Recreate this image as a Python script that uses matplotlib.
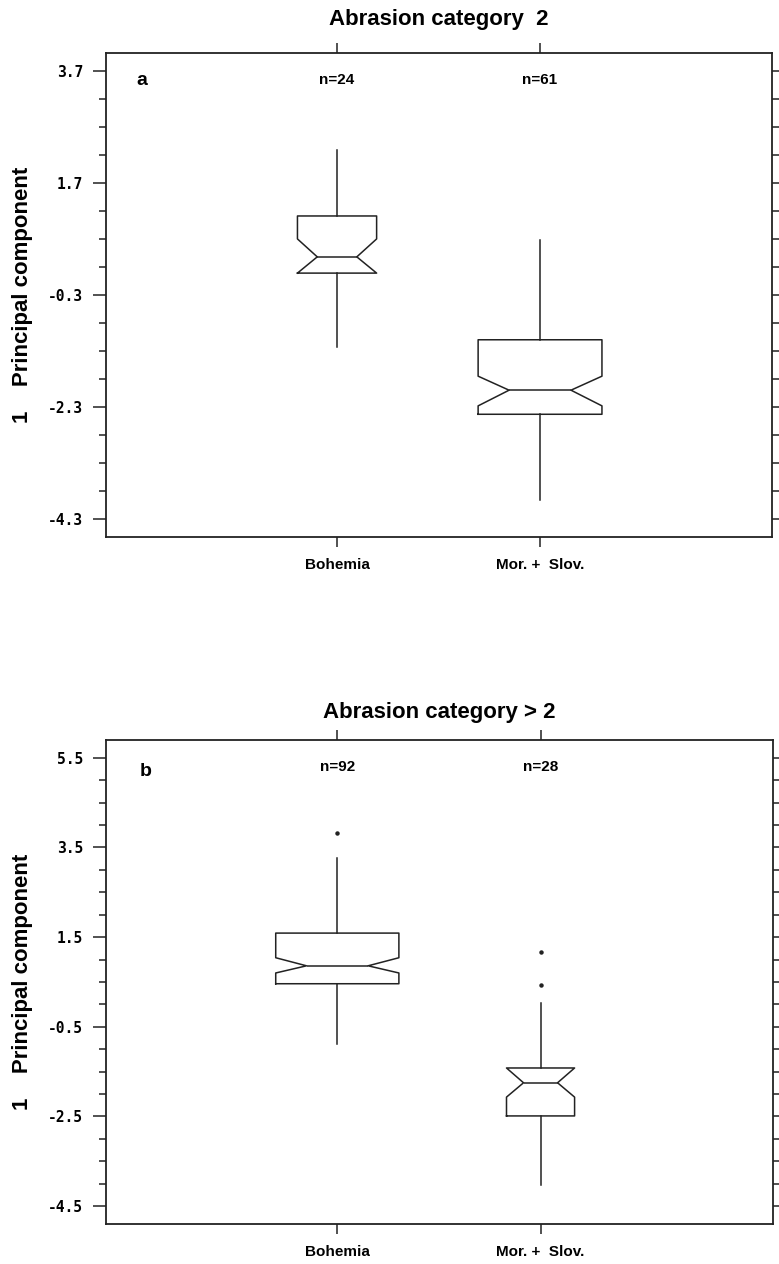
import numpy as np
import matplotlib
matplotlib.use("Agg")
import matplotlib.pyplot as plt
from matplotlib.ticker import FixedLocator

# ---- data
regions = ["Bohemia", "Mor. +  Slov."]

# panel a: abrasion category 2
n_a = [24, 61]
whislo_a = [-1.23, -3.96]
q1_a = [0.09, -2.43]
cilo_a = [0.09, -2.28]
med_a = [0.38, -2.00]
cihi_a = [0.70, -1.75]
q3_a = [1.11, -1.10]
whishi_a = [2.29, 0.68]
fliers_a = [[], []]
widths_a = [0.39, 0.61]
yticks_a = [3.7, 1.7, -0.3, -2.3, -4.3]

# panel b: abrasion category > 2
n_b = [92, 28]
whislo_b = [-0.88, -4.03]
q1_b = [0.46, -2.49]
cilo_b = [0.70, -2.07]
med_b = [0.86, -1.75]
cihi_b = [1.04, -1.42]
q3_b = [1.59, -1.42]
whishi_b = [3.27, 0.03]
fliers_b = [[3.83], [1.17, 0.43]]
widths_b = [0.606, 0.335]
yticks_b = [5.5, 3.5, 1.5, -0.5, -2.5, -4.5]

mono = "DejaVu Sans Mono"
sans = "Liberation Sans"
ink = "#222222"


def make_stats(whislo, q1, cilo, med, cihi, q3, whishi, fliers):
    out = []
    for i in range(len(med)):
        out.append(dict(whislo=whislo[i], q1=q1[i], cilo=cilo[i], med=med[i],
                        cihi=cihi[i], q3=q3[i], whishi=whishi[i],
                        fliers=np.array(fliers[i])))
    return out


def draw_panel(ax, stats, widths, ns, title, letter, ylim, yticks,
               tpad, lx, ly):
    lp = dict(color=ink, linewidth=1.1)
    ax.bxp(stats, positions=[1, 2], widths=widths, shownotches=True,
           showcaps=False, boxprops=lp, whiskerprops=lp, medianprops=lp,
           flierprops=dict(marker="o", markersize=2.2, markerfacecolor=ink,
                           markeredgecolor=ink, linestyle="none"))
    ax.set_xlim(-0.138, 3.143)
    ax.set_ylim(*ylim)

    # minor ticks every 0.5 between the labelled ones
    minors = np.arange(min(yticks), max(yticks) + 0.01, 0.5)
    ax.yaxis.set_major_locator(FixedLocator(yticks))
    ax.yaxis.set_minor_locator(FixedLocator(minors))
    ax.set_yticklabels(["%.1f" % t for t in yticks], family=mono,
                       fontweight="bold", fontsize=10.5)
    ax.tick_params(axis="y", which="major", direction="out", length=9.5,
                   width=1.1, pad=7, right=True, color=ink)
    ax.tick_params(axis="y", which="minor", direction="out", length=5,
                   width=1.1, right=True, color=ink)
    ax.tick_params(axis="y", which="both", labelright=False)

    ax.set_xticks([1, 2])
    ax.set_xticklabels(regions, family=sans, fontweight="bold", fontsize=11)
    ax.tick_params(axis="x", direction="out", length=7.5, width=1.1,
                   top=True, pad=8, color=ink)

    for s in ax.spines.values():
        s.set_color(ink)
        s.set_linewidth(1.3)

    ax.set_title(title, family=sans, fontweight="bold", fontsize=16, pad=tpad)
    ax.set_ylabel("1    Principal component", family=sans,
                  fontweight="bold", fontsize=16, va="center")
    ax.yaxis.set_label_coords(-0.126, 0.5)

    ax.text(lx, ly, letter, transform=ax.transAxes, family=sans,
            fontweight="bold", fontsize=14, ha="center", va="center")
    for pos, n in zip([1, 2], ns):
        ax.text(pos, 0.944, "n=%d" % n, transform=ax.get_xaxis_transform(),
                family=sans, fontweight="bold", fontsize=11,
                ha="center", va="center")


fig = plt.figure(figsize=(7.79, 12.64), dpi=100)
ax1 = fig.add_axes([0.1361, 0.5752, 0.855, 0.3829])
ax2 = fig.add_axes([0.1361, 0.0317, 0.856, 0.3829])

draw_panel(ax1, make_stats(whislo_a, q1_a, cilo_a, med_a, cihi_a, q3_a,
                           whishi_a, fliers_a),
           widths_a, n_a, "Abrasion category  2", "a",
           (-4.62, 4.02), yticks_a, 20, 0.054, 0.944)
draw_panel(ax2, make_stats(whislo_b, q1_b, cilo_b, med_b, cihi_b, q3_b,
                           whishi_b, fliers_b),
           widths_b, n_b, "Abrasion category > 2", "b",
           (-4.9, 5.9), yticks_b, 15.5, 0.06, 0.934)

fig.savefig("out.png", dpi=100)
